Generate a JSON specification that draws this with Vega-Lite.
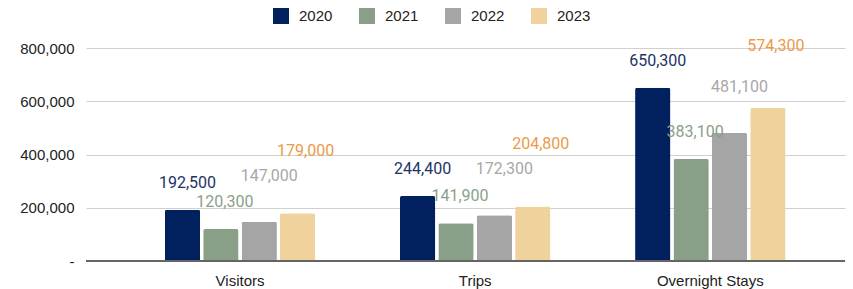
{
  "$schema": "https://vega.github.io/schema/vega-lite/v6.json",
  "width": 759,
  "height": 213,
  "autosize": "none",
  "padding": {"left": 86, "top": 48, "right": 8, "bottom": 28},
  "background": "white",
  "config": {
    "view": {"stroke": null},
    "font": "Liberation Sans"
  },
  "data": {
    "values": [
      {"category": "Visitors", "year": "2020", "value": 192500},
      {"category": "Visitors", "year": "2021", "value": 120300},
      {"category": "Visitors", "year": "2022", "value": 147000},
      {"category": "Visitors", "year": "2023", "value": 179000},
      {"category": "Trips", "year": "2020", "value": 244400},
      {"category": "Trips", "year": "2021", "value": 141900},
      {"category": "Trips", "year": "2022", "value": 172300},
      {"category": "Trips", "year": "2023", "value": 204800},
      {"category": "Overnight Stays", "year": "2020", "value": 650300},
      {"category": "Overnight Stays", "year": "2021", "value": 383100},
      {"category": "Overnight Stays", "year": "2022", "value": 481100},
      {"category": "Overnight Stays", "year": "2023", "value": 574300}
    ]
  },
  "encoding": {
    "x": {
      "field": "category", "type": "nominal", "sort": ["Visitors", "Trips", "Overnight Stays"],
      "scale": {"paddingInner": 0.36, "paddingOuter": 0.294, "align": 0.57},
      "axis": {"title": null, "labelAngle": 0, "labelFontSize": 15, "labelColor": "#222", "ticks": false, "domain": false, "labelPadding": 12}
    },
    "xOffset": {"field": "year", "type": "nominal", "sort": ["2020", "2021", "2022", "2023"], "scale": {"paddingInner": 0.08}},
    "y": {
      "field": "value", "type": "quantitative",
      "scale": {"domain": [0, 800000]},
      "axis": {
        "title": null, "values": [0, 200000, 400000, 600000, 800000],
        "labelOverlap": false,
        "labelExpr": "datum.value == 0 ? '-' : format(datum.value, ',')",
        "labelFontSize": 15, "labelColor": "#222", "ticks": false, "domain": false,
        "gridColor": "#d0d0d0", "labelPadding": 12
      }
    }
  },
  "layer": [
    {
      "mark": {"type": "bar", "cornerRadiusTopLeft": 2, "cornerRadiusTopRight": 2},
      "encoding": {
        "color": {
          "field": "year", "type": "nominal",
          "scale": {"domain": ["2020", "2021", "2022", "2023"], "range": ["#01205e", "#8a9f88", "#a5a5a5", "#f0d29d"]},
          "legend": {
            "title": null, "orient": "none", "legendX": 187, "legendY": -40, "direction": "horizontal",
            "symbolType": "square", "symbolSize": 256, "symbolStrokeWidth": 0,
            "labelFontSize": 15, "labelColor": "#222", "columnPadding": 26, "labelOffset": 10
          }
        }
      }
    },
    {
      "transform": [{"filter": "datum.year == '2020'"}],
      "mark": {"type": "text", "dy": -27, "dx": 5, "baseline": "middle", "font": "Roboto", "fontSize": 16, "color": "#1d3366"},
      "encoding": {"text": {"field": "value", "type": "quantitative", "format": ","}}
    },
    {
      "transform": [{"filter": "datum.year == '2021'"}],
      "mark": {"type": "text", "dy": -27, "dx": 4, "baseline": "middle", "font": "Roboto", "fontSize": 16, "color": "#8a9f88"},
      "encoding": {"text": {"field": "value", "type": "quantitative", "format": ","}}
    },
    {
      "transform": [{"filter": "datum.year == '2022'"}],
      "mark": {"type": "text", "dy": -46, "dx": 10, "baseline": "middle", "font": "Roboto", "fontSize": 16, "color": "#a8a8a8"},
      "encoding": {"text": {"field": "value", "type": "quantitative", "format": ","}}
    },
    {
      "transform": [{"filter": "datum.year == '2023'"}],
      "mark": {"type": "text", "dy": -62, "dx": 8, "baseline": "middle", "font": "Roboto", "fontSize": 16, "color": "#ec9a48"},
      "encoding": {"text": {"field": "value", "type": "quantitative", "format": ","}}
    },
    {
      "mark": {"type": "rule", "color": "#666", "strokeWidth": 1.5},
      "encoding": {"y": {"datum": 0}, "x": null, "xOffset": null}
    }
  ]
}
